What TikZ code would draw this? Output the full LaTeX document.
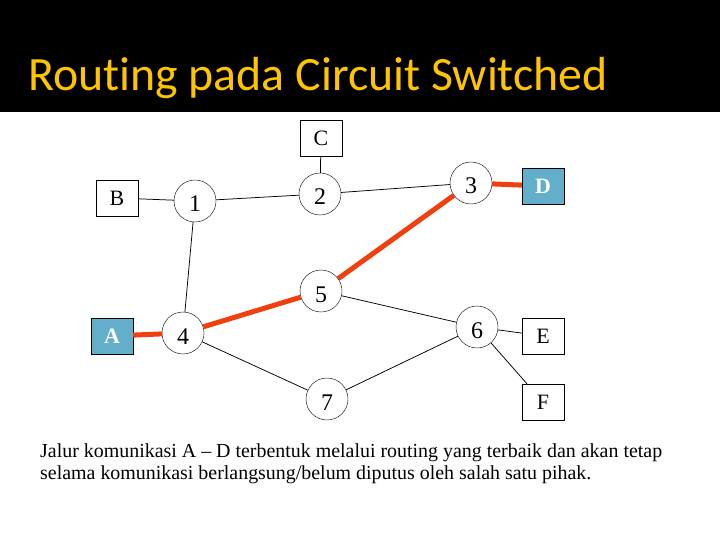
\documentclass[tikz,border=0pt]{standalone}
\usepackage{fontspec}
\setmainfont{Liberation Serif}
\newfontfamily\titlefont[Ligatures=NoCommon]{Carlito}
\definecolor{titleyellow}{RGB}{255,196,0}
\definecolor{hostblue}{RGB}{98,174,203}
\definecolor{routered}{RGB}{240,64,16}

\begin{document}
\begin{tikzpicture}[x=1bp,y=-1bp,
    router/.style={draw,circle,minimum size=42bp,inner sep=0pt,text height=22bp,text depth=0pt,font=\fontsize{24}{24}\selectfont},
    host/.style={draw,minimum width=42bp,minimum height=36bp,inner sep=0pt,font=\fontsize{22}{22}\selectfont},
    endhost/.style={host,fill=hostblue,text=white,font=\fontsize{22}{22}\selectfont\bfseries},
    link/.style={line width=0.75bp},
    route/.style={line width=5bp,draw=routered},
    caption/.style={anchor=base west,inner sep=0pt,font=\fontsize{20}{24}\selectfont}]
        \useasboundingbox (0,0) rectangle (720,540);
        \fill[black] (0,0) rectangle (720,112);
        \node[anchor=base west,inner sep=0pt,text=titleyellow,font=\titlefont\fontsize{48}{48}\selectfont] (title) at (28,91) {Routing pada Circuit Switched};
        % hosts
        \node[host] (C) at (321,138) {C};
        \node[host] (B) at (117,198) {B};
        \node[endhost] (D) at (543,186) {D};
        \node[endhost] (A) at (112,336) {A};
        \node[host] (E) at (543,336) {E};
        \node[host] (F) at (543,402) {F};
        % routers
        \node[router] (r1) at (195,201) {1};
        \node[router] (r2) at (320,194) {2};
        \node[router] (r3) at (471,183) {3};
        \node[router] (r4) at (183,333) {4};
        \node[router] (r5) at (321,291) {5};
        \node[router] (r6) at (477,327) {6};
        \node[router] (r7) at (327,399) {7};
        % links
        \draw[link] (B) -- (r1);
        \draw[link] (r1) -- (r2);
        \draw[link] (C) -- (r2);
        \draw[link] (r2) -- (r3);
        \draw[link] (r1) -- (r4);
        \draw[link] (r5) -- (r6);
        \draw[link] (r4) -- (r7);
        \draw[link] (r7) -- (r6);
        \draw[link] (r6) -- (E);
        \draw[link] (r6) -- (F);
        % route A - D
        \draw[route] (A) -- (r4);
        \draw[route] (r4) -- (r5);
        \draw[route] (r5) -- (r3);
        \draw[route] (r3) -- (D);
        \node[caption] (line1) at (40,457) {Jalur komunikasi A -- D terbentuk melalui routing yang terbaik dan akan tetap};
        \node[caption] (line2) at (40,479) {selama komunikasi berlangsung/belum diputus oleh salah satu pihak.};
    \end{tikzpicture}
\end{document}
